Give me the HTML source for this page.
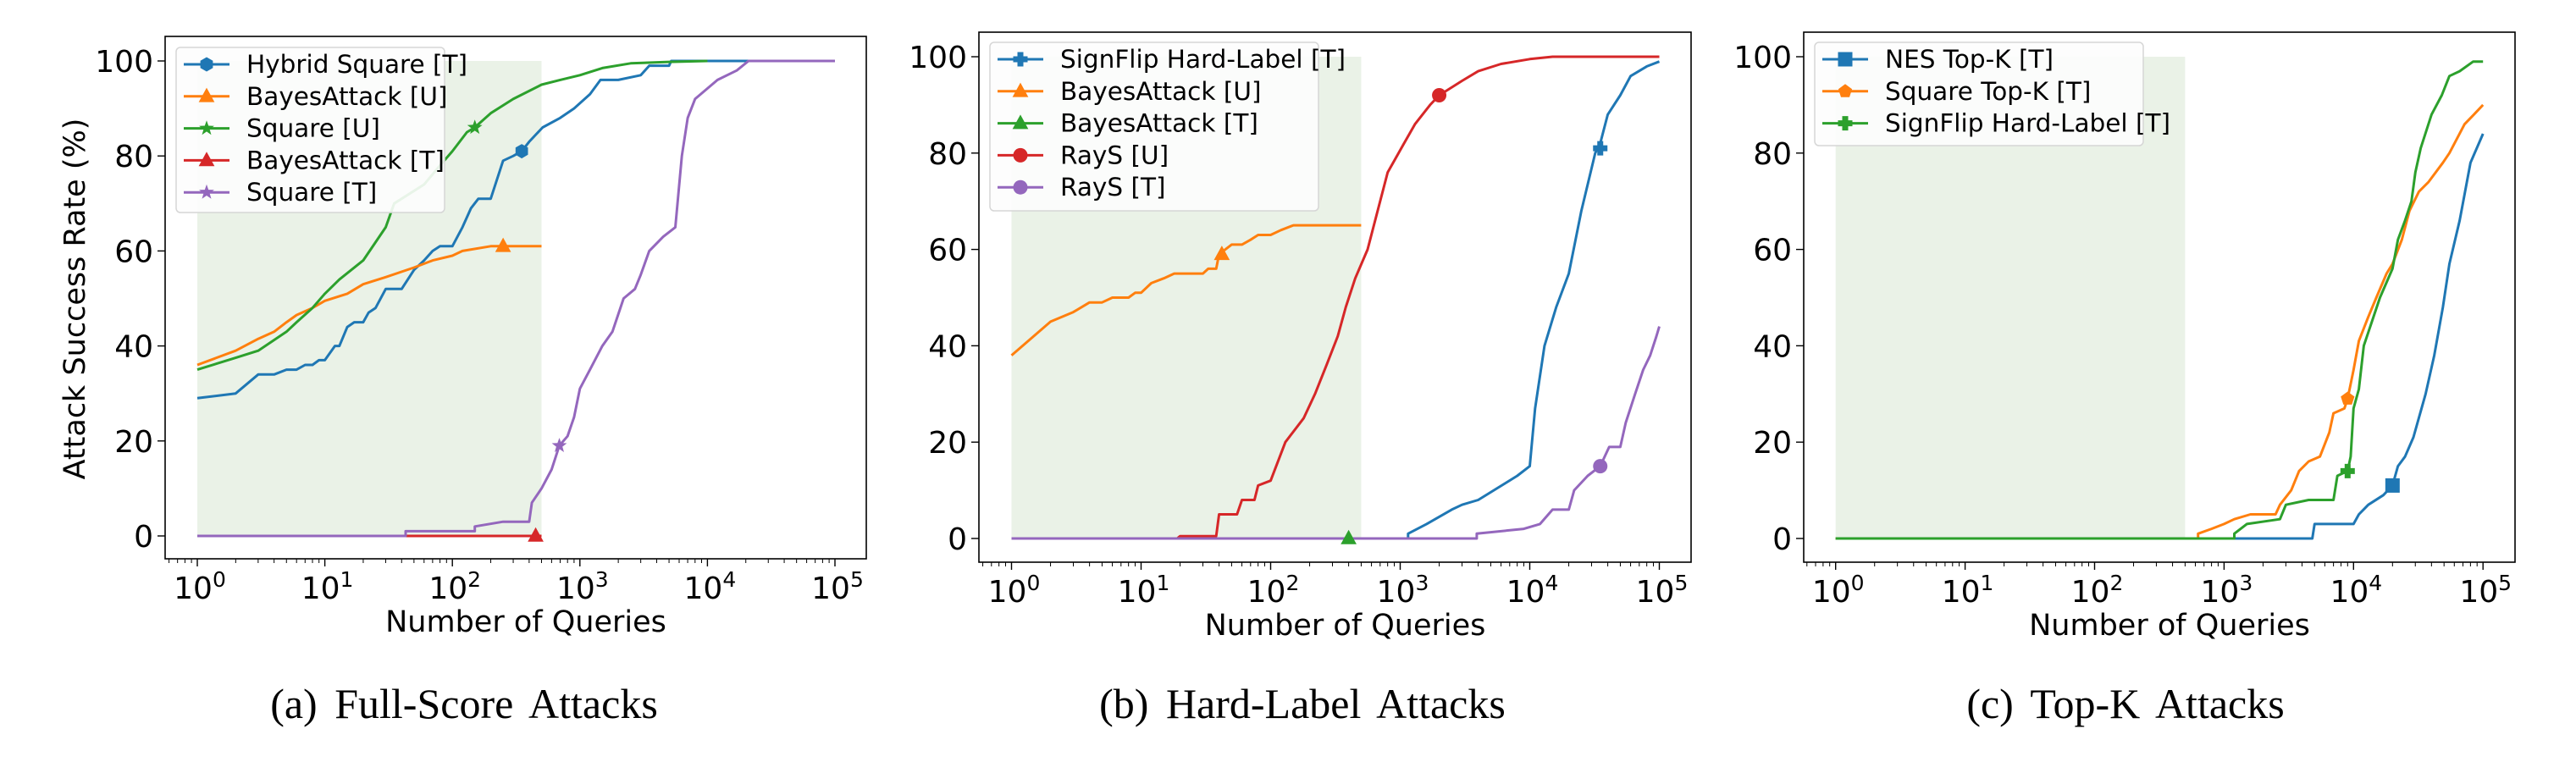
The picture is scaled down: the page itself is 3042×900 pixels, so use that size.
<!DOCTYPE html>
<html><head><meta charset="utf-8"><style>
html,body{margin:0;padding:0;background:#fff;}
svg{display:block;font-family:"DejaVu Sans","Liberation Sans",sans-serif;}
</style></head><body>
<svg id="fig" width="3042" height="900" viewBox="0 0 3042 900" xmlns="http://www.w3.org/2000/svg"></svg>
<script>
// ---------- data: panel (a) Full-Score ----------
const aHybridX=[1,2,3,4,5,6,7,8,9,10,12,13,15,17,20,22,25,30,40,50,60,70,80,100,120,140,160,200,250,300,350,400,510,700,900,1200,1450,2000,3000,3500,5000,5200,30000];
const aHybridY=[29,30,34,34,35,35,36,36,37,37,40,40,44,45,45,47,48,52,52,56,58,60,61,61,65,69,71,71,79,80,81,83,86,88,90,93,96,96,97,99,99,100,100];
const aBayesUX=[1,2,3,4,5,6,8,10,15,20,30,50,70,100,120,200,250,500];
const aBayesUY=[36,39,41.5,43,45,46.5,48,49.5,51,53,54.5,56.5,58,59,60,61,61,61];
const aSquareUX=[1,2,3,5,6,8,10,13,20,30,35,60,80,100,130,150,200,300,500,700,1000,1500,2500,5000,10000];
const aSquareUY=[35,37.5,39,43,45,48,51,54,58,65,70,74,78,81,85,86,89,92,95,96,97,98.5,99.5,99.8,100];
const aBayesTX=[1,500];
const aBayesTY=[0,0];
const aSquareTX=[1,43,43,150,150,250,400,420,500,600,690,800,900,1000,1200,1500,1800,2200,2700,3000,3500,4500,5600,6300,7000,8000,12000,17000,21000,100000];
const aSquareTY=[0,0,1,1,2,3,3,7,10,14,19,21,25,31,35,40,43,50,52,55,60,63,65,80,88,92,96,98,100,100];
// ---------- data: panel (b) Hard-Label ----------
const bSignX=[1,1150,1150,1600,2500,3000,4000,8000,10000,11000,13000,16000,20000,25000,32000,35000,40000,50000,60000,80000,100000];
const bSignY=[0,0,1,3,6,7,8,13,15,27,40,48,55,68,80,82,88,92,96,98,99];
const bBayesUX=[1,2,3,4,5,6,8,9,10,12,15,18,30,33,38,40,50,60,70,80,100,120,150,500];
const bBayesUY=[38,45,47,49,49,50,50,51,51,53,54,55,55,56,56,59,61,61,62,63,63,64,65,65];
const bBayesTX=[1,500];
const bBayesTY=[0,0];
const bRaysUX=[1,19,20,38,40,55,60,75,80,100,130,180,220,270,330,380,450,560,700,800,1070,1300,1700,2000,3000,4000,6000,10000,15000,100000];
const bRaysUY=[0,0,0.5,0.5,5,5,8,8,11,12,20,25,30,36,42,48,54,60,70,76,82,86,90,92,95,97,98.5,99.5,100,100];
const bRaysTX=[1,3900,3900,9000,12000,15000,20000,22000,28000,35000,41000,50000,55000,65000,75000,85000,95000,100000];
const bRaysTY=[0,0,1,2,3,6,6,10,13,15,19,19,24,30,35,38,42,44];
// ---------- data: panel (c) Top-K ----------
const cNesX=[1,4800,5000,10000,11000,13000,17000,20000,22000,25000,29000,36000,42000,49000,55000,66000,80000,100000];
const cNesY=[0,0,3,3,5,7,9,11,15,17,21,30,38,48,57,66,78,84];
const cSquareX=[1,630,630,800,1000,1200,1600,2500,2700,3300,3800,4500,5500,6500,7000,8500,9000,10000,11000,13000,15000,18000,20000,23600,27000,32000,38000,49000,55000,72000,85000,100000];
const cSquareY=[0,0,1,2,3,4,5,5,7,10,14,16,17,22,26,27,29,35,41,46,50,55,57,62,68,72,74,78,80,86,88,90];
const cSignX=[1,1200,1200,1500,2700,3000,4500,7000,7500,9000,9500,10000,11000,12000,16000,20000,22000,25000,28000,30000,33000,40000,48000,55000,66000,84000,100000];
const cSignY=[0,0,1,3,4,7,8,8,13,14,17,27,31,40,50,56,62,66,70,76,81,88,92,96,97,99,99];
const yTicks=[0,20,40,60,80,100];
const xTickExp=[0,1,2,3,4,5];

const C={blue:'#1f77b4',orange:'#ff7f0e',green:'#2ca02c',red:'#d62728',purple:'#9467bd'};
const NS='http://www.w3.org/2000/svg';
const svg=document.getElementById('fig');
function mk(tag,attrs,parent){const e=document.createElementNS(NS,tag);for(const k in attrs)e.setAttribute(k,attrs[k]);(parent||svg).appendChild(e);return e;}

function marker(g,shape,cx,cy,color){
  const r=8.5;let el;
  if(shape==='circle'){el=mk('circle',{cx,cy,r:r},g);}
  else if(shape==='hex'){let p=[];for(let i=0;i<6;i++){const a=Math.PI/3*i+Math.PI/6;p.push((cx+r*Math.cos(a)).toFixed(1)+','+(cy+r*Math.sin(a)).toFixed(1));}el=mk('polygon',{points:p.join(' ')},g);}
  else if(shape==='tri'){el=mk('polygon',{points:`${cx},${cy-r*1.2} ${cx-r*1.1},${cy+r*0.8} ${cx+r*1.1},${cy+r*0.8}`},g);}
  else if(shape==='square'){el=mk('rect',{x:cx-r,y:cy-r,width:2*r,height:2*r},g);}
  else if(shape==='pent'){let p=[];for(let i=0;i<5;i++){const a=-Math.PI/2+2*Math.PI/5*i;p.push((cx+r*Math.cos(a)).toFixed(1)+','+(cy+r*Math.sin(a)).toFixed(1));}el=mk('polygon',{points:p.join(' ')},g);}
  else if(shape==='star'){let p=[];for(let i=0;i<10;i++){const a=-Math.PI/2+Math.PI/5*i;const rr=i%2?r*0.45:r*1.1;p.push((cx+rr*Math.cos(a)).toFixed(1)+','+(cy+rr*Math.sin(a)).toFixed(1));}el=mk('polygon',{points:p.join(' ')},g);}
  else if(shape==='plus'){const w=3.5;el=mk('path',{d:`M${cx-w},${cy-r}h${2*w}v${r-w}h${r-w}v${2*w}h${-(r-w)}v${r-w}h${-2*w}v${-(r-w)}h${-(r-w)}v${-2*w}h${r-w}z`},g);}
  el.setAttribute('fill',color);
  
  
}

function panel(p){
  const g=mk('g',{});
  
  
  const X=v=>p.x0+Math.log10(v)*p.dec;
  const Y=v=>p.y0+(p.y100-p.y0)*v/100;
  const sh=mk('rect',{x:X(1),y:Y(100),width:X(500)-X(1),height:Y(0)-Y(100),fill:'#eaf2e7'},g);
  
  
  p.series.forEach(s=>{
    const pts=s.x.map((v,i)=>X(v).toFixed(1)+','+Y(s.y[i]).toFixed(1)).join(' ');
    const l=mk('polyline',{points:pts,fill:'none',stroke:s.color,'stroke-width':3,'stroke-linejoin':'round'},g);
    
    
  });
  p.series.forEach(s=>{marker(g,s.shape,X(s.mx),Y(s.my),s.color);});
  const fr=mk('rect',{x:p.L,y:p.T,width:p.R-p.L,height:p.B-p.T,fill:'none',stroke:'#000','stroke-width':1.6},g);
  
  
  yTicks.forEach(t=>{
    mk('line',{x1:p.L,x2:p.L-9,y1:Y(t),y2:Y(t),stroke:'#000','stroke-width':1.4},g);
    const tx=mk('text',{x:p.L-14,y:Y(t)+13,'font-size':36,'text-anchor':'end',fill:'#000'},g);
    tx.textContent=t;
    
    
  });
  xTickExp.forEach(e=>{
    const xx=X(Math.pow(10,e));
    mk('line',{x1:xx,x2:xx,y1:p.B,y2:p.B+9,stroke:'#000','stroke-width':1.4},g);
    const tx=mk('text',{x:xx+3,y:p.B+47,'font-size':36,'text-anchor':'middle',fill:'#000'},g);
    tx.innerHTML='10<tspan dy="-14" font-size="25">'+e+'</tspan>';
    
    
  });
  for(let e=-1;e<=5;e++)for(let k=2;k<=9;k++){
    const v=k*Math.pow(10,e);const xx=X(v);
    if(xx<p.L||xx>p.R)continue;
    mk('line',{x1:xx,x2:xx,y1:p.B,y2:p.B+5,stroke:'#000','stroke-width':1},g);
  }
  const xl=mk('text',{x:(p.L+p.R)/2+12,y:p.B+86,'font-size':35,'text-anchor':'middle',fill:'#000'},g);
  xl.textContent='Number of Queries';
  
  
  const lg=mk('g',{},g);
  
  
  mk('rect',{x:p.lg.x,y:p.lg.y,width:p.lg.w,height:p.lg.h,rx:5,fill:'#fdfdfd','fill-opacity':0.9,stroke:'#d6d6d6','stroke-width':1.5},lg);
  p.series.forEach((s,i)=>{
    const yy=p.lg.y+20+i*37.8;
    const le=mk('g',{},lg);
    
    
    mk('line',{x1:p.lg.x+9,x2:p.lg.x+63,y1:yy,y2:yy,stroke:s.color,'stroke-width':3},le);
    marker(le,s.shape,p.lg.x+36,yy,s.color);
    const t=mk('text',{x:p.lg.x+83,y:yy+10,'font-size':29.5,fill:'#000'},le);
    t.textContent=s.label;
  });
  const cp=mk('text',{x:p.capX,y:848,'font-size':50,'text-anchor':'middle','font-family':'"Liberation Serif",serif','word-spacing':8,fill:'#000'},g);
  cp.textContent=p.caption;
  
  
}

panel({name:'panel-full-score',L:195,R:1023,T:43,B:660,x0:233,dec:150.6,y0:633,y100:72,capX:548,caption:'(a) Full-Score Attacks',
  lg:{x:208,y:56,w:317,h:195},
  series:[
   {label:'Hybrid Square [T]',x:aHybridX,y:aHybridY,color:C.blue,shape:'hex',mx:350,my:81},
   {label:'BayesAttack [U]',x:aBayesUX,y:aBayesUY,color:C.orange,shape:'tri',mx:250,my:61},
   {label:'Square [U]',x:aSquareUX,y:aSquareUY,color:C.green,shape:'star',mx:150,my:86},
   {label:'BayesAttack [T]',x:aBayesTX,y:aBayesTY,color:C.red,shape:'tri',mx:450,my:0},
   {label:'Square [T]',x:aSquareTX,y:aSquareTY,color:C.purple,shape:'star',mx:690,my:19}]});
panel({name:'panel-hard-label',L:1156,R:1997,T:38,B:664,x0:1194.5,dec:153,y0:636,y100:67,capX:1538,caption:'(b) Hard-Label Attacks',
  lg:{x:1169,y:50,w:388,h:199},
  series:[
   {label:'SignFlip Hard-Label [T]',x:bSignX,y:bSignY,color:C.blue,shape:'plus',mx:35000,my:81},
   {label:'BayesAttack [U]',x:bBayesUX,y:bBayesUY,color:C.orange,shape:'tri',mx:42,my:59},
   {label:'BayesAttack [T]',x:bBayesTX,y:bBayesTY,color:C.green,shape:'tri',mx:400,my:0},
   {label:'RayS [U]',x:bRaysUX,y:bRaysUY,color:C.red,shape:'circle',mx:2000,my:92},
   {label:'RayS [T]',x:bRaysTX,y:bRaysTY,color:C.purple,shape:'circle',mx:35000,my:15}]});
panel({name:'panel-top-k',L:2130,R:2970,T:38,B:664,x0:2167.7,dec:152.9,y0:636,y100:67,capX:2510,caption:'(c) Top-K Attacks',
  lg:{x:2143,y:50,w:388,h:122},
  series:[
   {label:'NES Top-K [T]',x:cNesX,y:cNesY,color:C.blue,shape:'square',mx:20000,my:11},
   {label:'Square Top-K [T]',x:cSquareX,y:cSquareY,color:C.orange,shape:'pent',mx:9000,my:29},
   {label:'SignFlip Hard-Label [T]',x:cSignX,y:cSignY,color:C.green,shape:'plus',mx:9000,my:14}]});

const yl=mk('text',{x:0,y:0,'font-size':35,'text-anchor':'middle',fill:'#000',transform:'translate(100,353) rotate(-90)'});
yl.textContent='Attack Success Rate (%)';


</script>
</body></html>
